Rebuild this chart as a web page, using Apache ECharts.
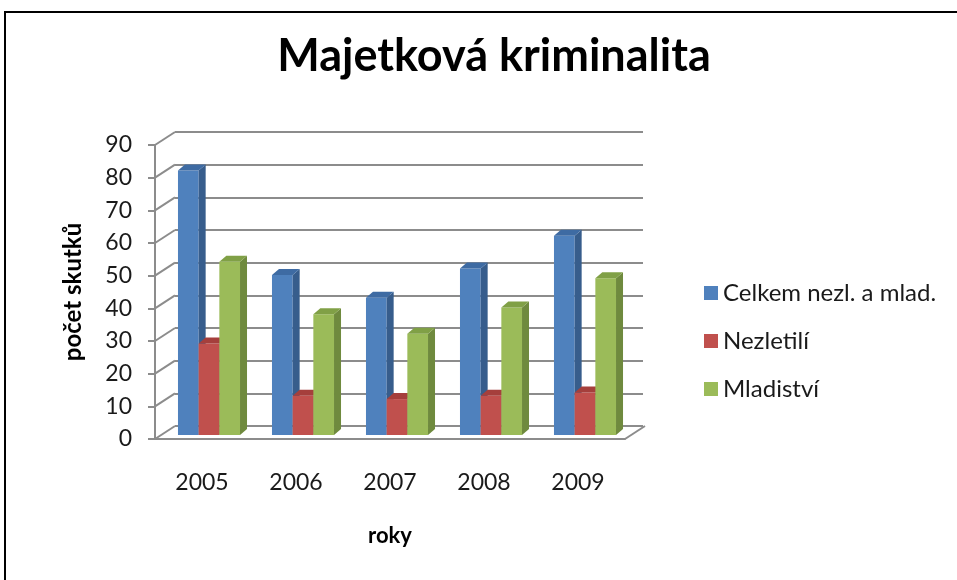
<!DOCTYPE html>
<html>
<head>
<meta charset="utf-8">
<script src="https://cdn.jsdelivr.net/npm/echarts@6/dist/echarts.min.js"></script>
<style>
html, body { margin: 0; padding: 0; background: #fff; }
#chart { width: 957px; height: 580px; }
</style>
</head>
<body>
<div id="chart"></div>
<script>
// data
var years = ['2005', '2006', '2007', '2008', '2009'];
var celkem = [81, 49, 42, 51, 61];
var nezletili = [28, 12, 11, 12, 13];
var mladistvi = [53, 37, 31, 39, 48];
var yTicks = [0, 10, 20, 30, 40, 50, 60, 70, 80, 90];
var seriesNames = ['Celkem nezl. a mlad.', 'Nezletilí', 'Mladiství'];

// front / side / top colours of each 3D bar
var faceColors = [
	['#4F81BD', '#375D8C', '#3E6BA3'],
	['#C0504D', '#8E3836', '#A53F3C'],
	['#9BBB59', '#6F8A3E', '#80A046']
];
var FONT = 'Lato';
var GRID_COLOR = '#8c8c8c';
var DX = 20, DY = -13;   // depth of the back wall
var BX = 7, BY = -6;     // depth of a bar

function barSeries(idx, data) {
	return {
		type: 'custom',
		name: seriesNames[idx],
		xAxisIndex: 2,
		yAxisIndex: 2,
		itemStyle: { color: faceColors[idx][0] },
		data: data.map(function(v, i) { return [i, v]; }),
		renderItem: function(params, api) {
			var top = api.coord([api.value(0), api.value(1)]);
			var base = api.coord([api.value(0), 0]);
			var band = api.size([1, 0])[0];
			var w = band * 0.22;
			var x0 = top[0] + (idx - 1.5) * w;
			var x1 = x0 + w;
			var c = faceColors[idx];
			return {
				type: 'group',
				children: [
					{ type: 'rect', shape: { x: x0, y: top[1], width: w, height: base[1] - top[1] }, style: { fill: c[0] } },
					{ type: 'polygon', shape: { points: [[x1, top[1]], [x1 + BX, top[1] + BY], [x1 + BX, base[1] + BY], [x1, base[1]]] }, style: { fill: c[1] } },
					{ type: 'polygon', shape: { points: [[x0, top[1]], [x0 + BX, top[1] + BY], [x1 + BX, top[1] + BY], [x1, top[1]]] }, style: { fill: c[2] } }
				]
			};
		}
	};
}

// diagonal lines from the front axis ticks to the back wall
var connectors = {
	type: 'custom',
	xAxisIndex: 0,
	yAxisIndex: 0,
	silent: true,
	data: yTicks.map(function(v) { return [0, v]; }),
	renderItem: function(params, api) {
		var p = api.coord([0, api.value(1)]);
		var left = p[0] - api.size([1, 0])[0] / 2;
		return {
			type: 'line',
			shape: { x1: left, y1: p[1], x2: left + DX, y2: p[1] + DY },
			style: { stroke: GRID_COLOR, lineWidth: 2 }
		};
	}
};

var floorRight = {
	type: 'custom',
	xAxisIndex: 0,
	yAxisIndex: 0,
	silent: true,
	data: [[years.length - 1, 0]],
	renderItem: function(params, api) {
		var p = api.coord([api.value(0), 0]);
		var right = p[0] + api.size([1, 0])[0] / 2;
		return {
			type: 'line',
			shape: { x1: right, y1: p[1], x2: right + DX, y2: p[1] + DY },
			style: { stroke: GRID_COLOR, lineWidth: 2 }
		};
	}
};

var myChart = echarts.init(document.getElementById('chart'));
var option = {
	backgroundColor: '#fff',
	animation: false,
	graphic: [{
		type: 'rect',
		z: -10,
		shape: { x: 5, y: 12, width: 1000, height: 700 },
		style: { fill: 'none', stroke: '#000', lineWidth: 2 }
	}],
	title: {
		text: 'Majetková kriminalita',
		left: 489,
		top: 29,
		textAlign: 'center',
		textStyle: { fontFamily: FONT, fontSize: 45, fontWeight: 'bold', color: '#000' }
	},
	legend: {
		orient: 'vertical',
		left: 699,
		top: 276,
		icon: 'rect',
		itemWidth: 14,
		itemHeight: 14,
		itemGap: 24,
		data: seriesNames,
		textStyle: { fontFamily: FONT, fontSize: 24, color: '#1a1a1a' }
	},
	grid: [
		{ left: 155, top: 145, width: 470, height: 294 },   // front
		{ left: 175, top: 132, width: 468, height: 294 },   // back wall
		{ left: 162, top: 141, width: 470, height: 294 }    // bars
	],
	xAxis: [
		{
			gridIndex: 0, type: 'category', data: years,
			name: 'roky', nameLocation: 'middle', nameGap: 86,
			nameTextStyle: { fontFamily: FONT, fontSize: 22, fontWeight: 'bold', color: '#000' },
			axisLine: { lineStyle: { color: GRID_COLOR, width: 2 } },
			axisTick: { show: false },
			axisLabel: { margin: 32, fontFamily: FONT, fontSize: 23, color: '#1a1a1a' }
		},
		{ gridIndex: 1, type: 'category', data: years, show: false },
		{ gridIndex: 2, type: 'category', data: years, show: false }
	],
	yAxis: [
		{
			gridIndex: 0, type: 'value', min: 0, max: 90, interval: 10,
			name: 'počet skutků', nameLocation: 'middle', nameGap: 70,
			nameTextStyle: { fontFamily: FONT, fontSize: 24, fontWeight: 'bold', color: '#000' },
			axisLine: { show: true, lineStyle: { color: GRID_COLOR, width: 2 } },
			axisTick: { show: true, length: 7, lineStyle: { color: GRID_COLOR, width: 2 } },
			axisLabel: { margin: 23, fontFamily: FONT, fontSize: 23, color: '#1a1a1a' },
			splitLine: { show: false }
		},
		{
			gridIndex: 1, type: 'value', min: 0, max: 90, interval: 10,
			axisLine: { show: false }, axisTick: { show: false }, axisLabel: { show: false },
			splitLine: { show: true, lineStyle: { color: GRID_COLOR, width: 2 } }
		},
		{ gridIndex: 2, type: 'value', min: 0, max: 90, interval: 10, show: false, splitLine: { show: false } }
	],
	series: [
		connectors,
		floorRight,
		barSeries(0, celkem),
		barSeries(1, nezletili),
		barSeries(2, mladistvi)
	]
};
myChart.setOption(option);
</script>
</body>
</html>
